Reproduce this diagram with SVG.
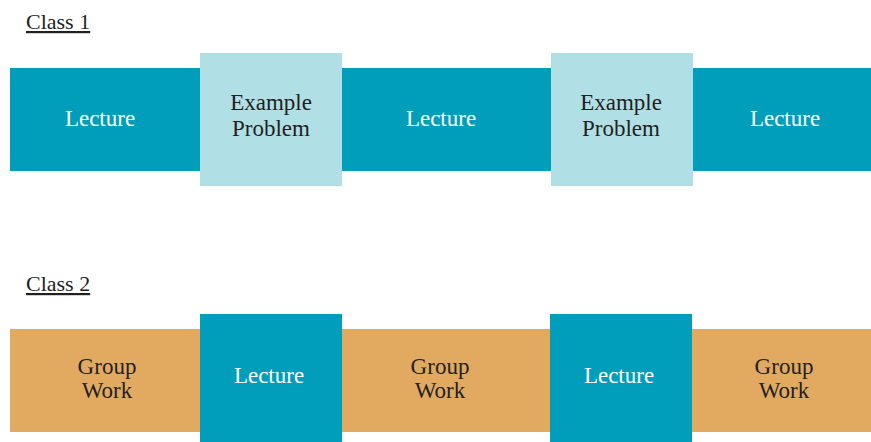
<svg xmlns="http://www.w3.org/2000/svg" width="871" height="442" viewBox="0 0 871 442">
<style>
.t{font-family:"Liberation Serif","Times New Roman",serif;font-size:23px;text-anchor:middle}
.w{fill:#ffffff}.d{fill:#231f20}
.h{font-family:"Liberation Serif","Times New Roman",serif;font-size:22px;fill:#231f20;text-decoration:underline}
.teal{fill:#009ebb}.lb{fill:#b0dfe6}.or{fill:#e2aa61}
</style>
<rect width="871" height="442" fill="#ffffff"/>
<g id="class1">
<text class="h" x="26" y="29">Class 1</text>
<g id="c1-band"><rect class="teal" x="10" y="68" width="861" height="103"/></g>
<g id="c1-lecture1"><text class="t w" x="100" y="126">Lecture</text></g>
<g id="c1-example1"><rect class="lb" x="200" y="53" width="142" height="133"/><text class="t d" x="271" y="110">Example</text><text class="t d" x="271" y="136">Problem</text></g>
<g id="c1-lecture2"><text class="t w" x="441" y="126">Lecture</text></g>
<g id="c1-example2"><rect class="lb" x="551" y="53" width="142" height="133"/><text class="t d" x="621" y="110">Example</text><text class="t d" x="621" y="136">Problem</text></g>
<g id="c1-lecture3"><text class="t w" x="785" y="126">Lecture</text></g>
</g>
<g id="class2">
<text class="h" x="26" y="291">Class 2</text>
<g id="c2-band"><rect class="or" x="10" y="329" width="861" height="103"/></g>
<g id="c2-group1"><text class="t d" x="107" y="374">Group</text><text class="t d" x="107" y="398">Work</text></g>
<g id="c2-lecture1"><rect class="teal" x="200" y="314" width="142" height="128"/><text class="t w" x="269" y="383">Lecture</text></g>
<g id="c2-group2"><text class="t d" x="440" y="374">Group</text><text class="t d" x="440" y="398">Work</text></g>
<g id="c2-lecture2"><rect class="teal" x="550" y="314" width="142" height="128"/><text class="t w" x="619" y="383">Lecture</text></g>
<g id="c2-group3"><text class="t d" x="784" y="374">Group</text><text class="t d" x="784" y="398">Work</text></g>
</g>
<g id="connectors"></g>
</svg>
